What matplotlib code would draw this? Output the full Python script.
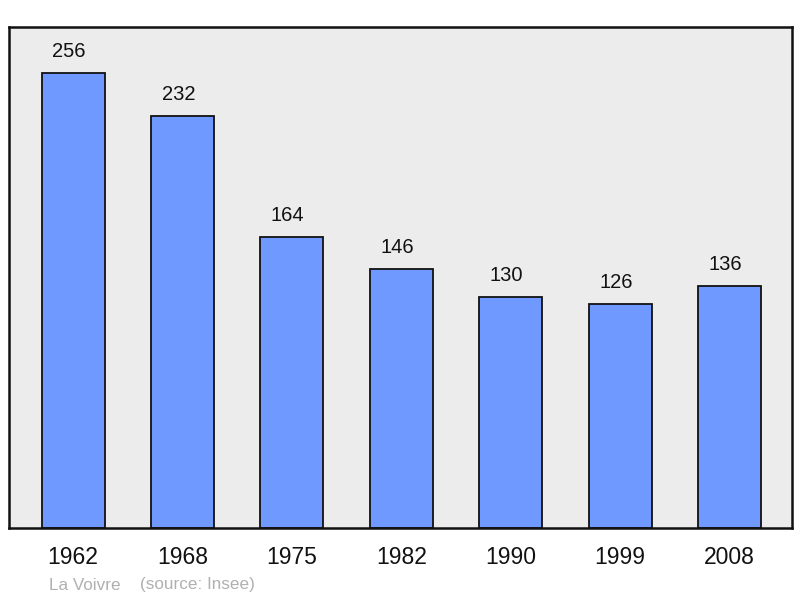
import numpy as np
import matplotlib.pyplot as plt

plt.rcParams['font.family'] = ['Liberation Sans', 'DejaVu Sans']

years = ['1962', '1968', '1975', '1982', '1990', '1999', '2008']
population = [256, 232, 164, 146, 130, 126, 136]

fig = plt.figure(figsize=(8, 5.98), dpi=100)
ax = fig.add_axes([0.01125, 0.117, 0.97875, 0.8378])
ax.set_facecolor('#ececec')

x = np.arange(len(years))
ax.bar(x, population, width=0.576, color='#7099ff', edgecolor='#111111', linewidth=1.3)

for xi, v in zip(x, population):
    ax.annotate(str(v), (xi, v), xytext=(-3, 15.5), textcoords='offset points',
                ha='center', va='center', fontsize=14.5, color='#111111')

ax.set_xlim(-0.585, 6.57)
ax.set_ylim(0, 282)
ax.set_yticks([])
ax.set_xticks(x)
ax.set_xticklabels(years, fontsize=16.5, color='#111111')
ax.tick_params(axis='x', length=0, pad=13)
for s in ax.spines.values():
    s.set_linewidth(1.8)
    s.set_color('#111111')

fig.text(49/800, 1-585/598, 'La Voivre', fontsize=12.3, color='#b0b0b0', va='center')
fig.text(140/800, 1-585/598, '(source: Insee)', fontsize=12.3, color='#b0b0b0', va='center')

fig.savefig('out.png', dpi=100)
